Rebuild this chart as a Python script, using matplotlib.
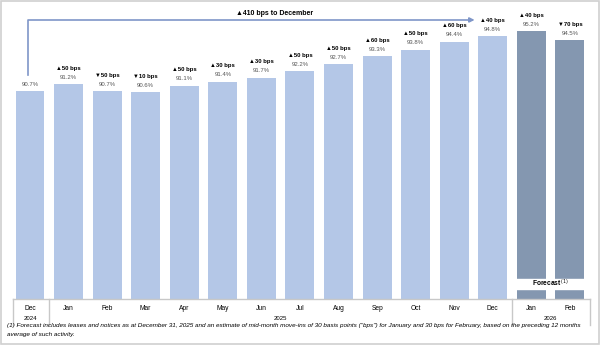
import matplotlib.pyplot as plt
from matplotlib.patches import Rectangle

months = ["Dec", "Jan", "Feb", "Mar", "Apr", "May", "Jun", "Jul",
          "Aug", "Sep", "Oct", "Nov", "Dec", "Jan", "Feb"]
occupancy = [90.7, 91.2, 90.7, 90.6, 91.1, 91.4, 91.7, 92.2,
             92.7, 93.3, 93.8, 94.4, 94.8, 95.2, 94.5]
changes = [None, "▲50 bps", "▼50 bps", "▼10 bps", "▲50 bps", "▲30 bps", "▲30 bps",
           "▲50 bps", "▲50 bps", "▲60 bps", "▲50 bps", "▲60 bps", "▲40 bps",
           "▲40 bps", "▼70 bps"]
years = [("2024", 0), ("2025", 6.5), ("2026", 13.5)]
n_forecast = 2
total_label = "▲410 bps to December"
footnote = ("(1) Forecast includes leases and notices as at December 31, 2025 and an estimate of "
            "mid-month move-ins of 30 basis points (\"bps\") for January and 30 bps for February, "
            "based on the preceding 12 months\naverage of such activity.")

light = "#B4C7E7"
dark = "#8497B0"
grey = "#C8C8C8"

plt.rcParams["font.family"] = ["Liberation Sans", "DejaVu Sans"]

W, H = 600, 345
fig = plt.figure(figsize=(6, 3.45), dpi=100)
# axes in pixel terms: x 13..590, y 5..299
ax = fig.add_axes([13 / W, (H - 299) / H, 577 / W, 294 / H])
ax.set_xlim(-0.44, 14.52)
ax.set_ylim(75.1, 97.15)
ax.axis("off")

# frame around the whole picture
fig.patches.append(Rectangle((0.002, 0.003), 0.996, 0.994, transform=fig.transFigure,
                             fill=False, edgecolor="#D0D0D0", lw=1.2))

x = list(range(len(months)))
colors = [light] * (len(months) - n_forecast) + [dark] * n_forecast
ax.bar(x, occupancy, width=0.75, bottom=0, color=colors)

# white band with "Forecast" label
fx0 = len(months) - n_forecast - 0.5
ax.add_patch(Rectangle((fx0, 75.85), n_forecast, 0.78, color="white", zorder=3))
ax.text(fx0 + n_forecast / 2, 76.24, r"Forecast$^{\,(1)}$", ha="center", va="center",
        fontsize=4.8, fontweight="bold", zorder=4)

for xi, v, c in zip(x, occupancy, changes):
    ax.text(xi, v + 0.52, f"{v:.1f}%", ha="center", va="center", fontsize=4.3, color="#555555")
    if c:
        ax.text(xi, v + 1.2, c, ha="center", va="center", fontsize=4.2, fontweight="bold")

# arrow from first to last actual month
last = len(months) - n_forecast - 1
ax.plot([-0.05, -0.05, last - 0.6], [91.9, 96.03, 96.03],
        color="#7F96C8", lw=1.2, clip_on=False)
ax.annotate("", xy=(last - 0.4, 96.03), xytext=(last - 0.65, 96.03),
            arrowprops=dict(arrowstyle="-|>", color="#7F96C8", lw=1.2, mutation_scale=7))
ax.text(6.35, 96.48, total_label, ha="center", va="center", fontsize=5, fontweight="bold")

# category table below the bars
tr = ax.get_xaxis_transform()
ax.plot([-0.44, 14.52], [0, 0], color=grey, lw=1, transform=tr, clip_on=False)
for sx in [-0.44, 0.5, 12.5, 14.52]:
    ax.plot([sx, sx], [0, -0.09], color=grey, lw=1, transform=tr, clip_on=False)
for xi, m in zip(x, months):
    ax.text(xi, -0.031, m, ha="center", va="center", fontsize=4.8, transform=tr)
for y, pos in years:
    ax.text(pos, -0.068, y, ha="center", va="center", fontsize=4.3, transform=tr)

fig.text(7 / W, 1 - 323.5 / H, footnote, ha="left", va="top", fontsize=4.55,
         style="italic", linespacing=1.9)

fig.savefig("out.png", dpi=100)
